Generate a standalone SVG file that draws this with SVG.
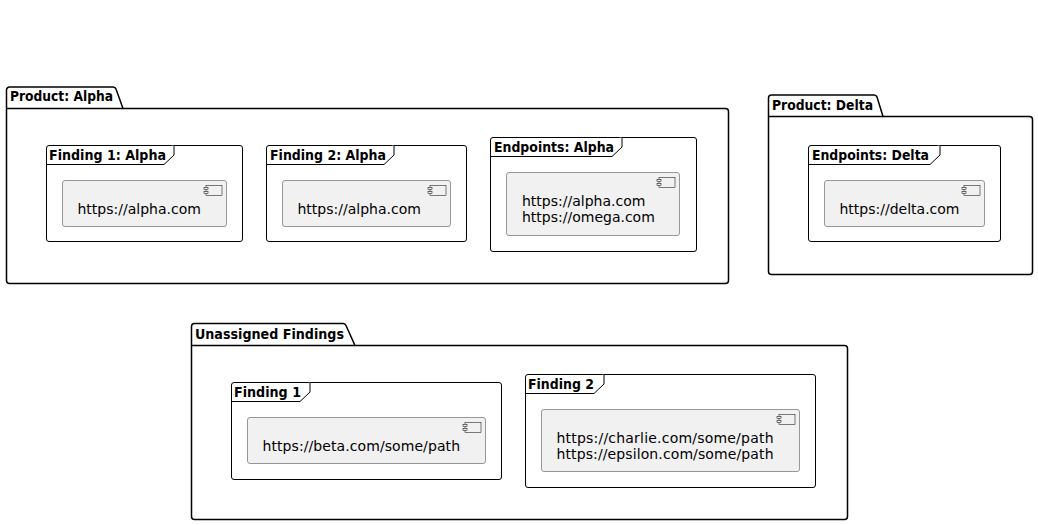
<svg xmlns="http://www.w3.org/2000/svg" width="1038" height="525" viewBox="0 0 1038 525">
<style>
.pkg{fill:#fff;stroke:#000;stroke-width:1.5}
.fr{fill:#fff;stroke:#000;stroke-width:1}
.cmp{fill:#f1f1f1;stroke:#7d7d7d;stroke-width:.8}
.ic{fill:#f1f1f1;stroke:#000;stroke-width:.5}
text{font-family:"DejaVu Sans",Verdana,sans-serif;fill:#000}
.t{font-size:14px;font-weight:700}
.b{font-size:14px}
</style>
<defs>
<g id="icon"><rect class="ic" x="0" y="0" width="16" height="10"/><rect class="ic" x="-2" y="2" width="4" height="2"/><rect class="ic" x="-2" y="6" width="4" height="2"/></g>
</defs>
<rect width="1038" height="525" fill="#fff"/>
<g id="connectors"/>
<g id="pkg-alpha">
<path class="pkg" d="M6.500 90a3 3 0 0 1 3-3H113a3 3 0 0 1 3 2l7 19.500H725.500a3 3 0 0 1 3 3V280.500a3 3 0 0 1-3 3H9.500a3 3 0 0 1-3-3Z"/>
<path class="pkg" d="M6.500 108.500H123" fill="none"/>
<text class="t" x="10" y="101" textLength="103" lengthAdjust="spacingAndGlyphs">Product: Alpha</text>
</g>
<g id="finding-1-alpha">
<rect class="fr" x="46.500" y="145.500" width="196" height="96" rx="2.500"/>
<path class="fr" d="M46.500 164.500H164L174 155V145.500" fill="none"/>
<text class="t" x="49" y="160" textLength="117" lengthAdjust="spacingAndGlyphs">Finding 1: Alpha</text>
<rect class="cmp" x="62.500" y="180.500" width="164" height="46" rx="2.500"/>
<use href="#icon" x="206" y="185.500"/>
<text class="b" x="77.500" y="214">https://alpha.com</text>
</g>
<g id="finding-2-alpha">
<rect class="fr" x="266.500" y="145.500" width="200" height="96" rx="2.500"/>
<path class="fr" d="M266.500 164.500H384L394 155V145.500" fill="none"/>
<text class="t" x="270" y="160" textLength="116" lengthAdjust="spacingAndGlyphs">Finding 2: Alpha</text>
<rect class="cmp" x="282.500" y="180.500" width="168" height="46" rx="2.500"/>
<use href="#icon" x="430" y="185.500"/>
<text class="b" x="297.500" y="214">https://alpha.com</text>
</g>
<g id="endpoints-alpha">
<rect class="fr" x="490.500" y="137.500" width="206" height="114" rx="2.500"/>
<path class="fr" d="M490.500 156.500H612L622 147V137.500" fill="none"/>
<text class="t" x="494" y="152" textLength="120" lengthAdjust="spacingAndGlyphs">Endpoints: Alpha</text>
<rect class="cmp" x="506.500" y="172.500" width="173" height="63" rx="2.500"/>
<use href="#icon" x="659" y="177.500"/>
<text class="b" x="522" y="206">https://alpha.com</text>
<text class="b" x="522" y="222">https://omega.com</text>
</g>
<g id="pkg-delta">
<path class="pkg" d="M768.500 98a3 3 0 0 1 3-3H874a3 3 0 0 1 3 2l6 19.500H1029.500a3 3 0 0 1 3 3V271.500a3 3 0 0 1-3 3H771.500a3 3 0 0 1-3-3Z"/>
<path class="pkg" d="M768.500 116.500H883" fill="none"/>
<text class="t" x="772" y="110" textLength="101" lengthAdjust="spacingAndGlyphs">Product: Delta</text>
</g>
<g id="endpoints-delta">
<rect class="fr" x="808.500" y="145.500" width="192" height="96" rx="2.500"/>
<path class="fr" d="M808.500 164.500H930L940 155V145.500" fill="none"/>
<text class="t" x="812" y="160" textLength="117" lengthAdjust="spacingAndGlyphs">Endpoints: Delta</text>
<rect class="cmp" x="824.500" y="180.500" width="160" height="46" rx="2.500"/>
<use href="#icon" x="964" y="185.500"/>
<text class="b" x="839.500" y="214">https://delta.com</text>
</g>
<g id="pkg-unassigned">
<path class="pkg" d="M191.500 326.500a3 3 0 0 1 3-3H343a3 3 0 0 1 3 2l9 20H844.500a3 3 0 0 1 3 3V516.500a3 3 0 0 1-3 3H194.500a3 3 0 0 1-3-3Z"/>
<path class="pkg" d="M191.500 345.500H355" fill="none"/>
<text class="t" x="195" y="339" textLength="149" lengthAdjust="spacingAndGlyphs">Unassigned Findings</text>
</g>
<g id="finding-1">
<rect class="fr" x="231.500" y="382.500" width="270" height="97" rx="2.500"/>
<path class="fr" d="M231.500 401.500H300L310 392V382.500" fill="none"/>
<text class="t" x="234" y="397" textLength="67" lengthAdjust="spacingAndGlyphs">Finding 1</text>
<rect class="cmp" x="247.500" y="417.500" width="238" height="46" rx="2.500"/>
<use href="#icon" x="465" y="422.500"/>
<text class="b" x="262.500" y="451" textLength="197.500">https://beta.com/some/path</text>
</g>
<g id="finding-2">
<rect class="fr" x="525.500" y="374.500" width="290" height="113" rx="2.500"/>
<path class="fr" d="M525.500 393.500H594L604 384V374.500" fill="none"/>
<text class="t" x="528" y="389" textLength="66" lengthAdjust="spacingAndGlyphs">Finding 2</text>
<rect class="cmp" x="541.500" y="409.500" width="258" height="62" rx="2.500"/>
<use href="#icon" x="779" y="414.500"/>
<text class="b" x="556.500" y="443" textLength="217">https://charlie.com/some/path</text>
<text class="b" x="556.500" y="459" textLength="217">https://epsilon.com/some/path</text>
</g>
</svg>
